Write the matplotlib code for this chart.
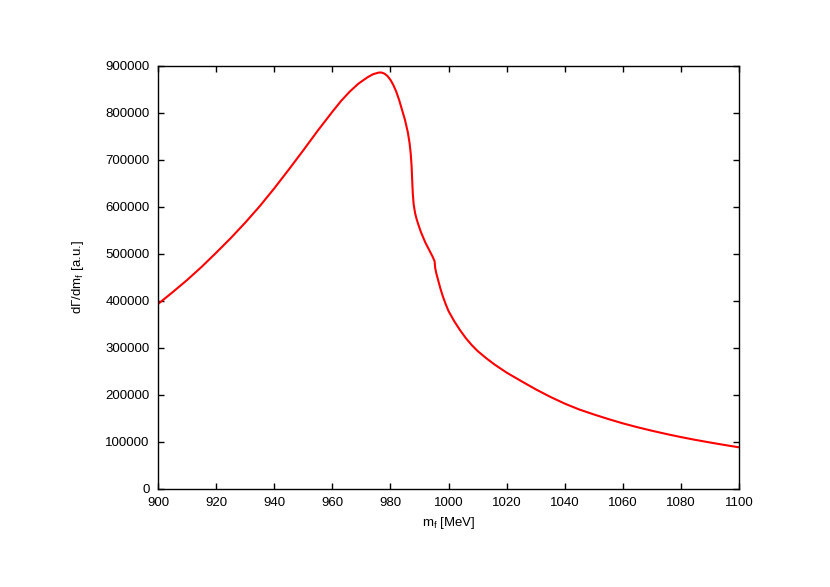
import matplotlib
matplotlib.use("Agg")
from matplotlib import pyplot as plt

# Massen m_f [MeV] und Werte dGamma/dm_f [a.u.]
masse = [900, 905, 910, 915, 920, 925, 930, 935, 940, 945, 950, 955, 960,
         963, 966, 969, 972, 974, 976, 977, 978, 979, 980, 981, 982, 983,
         984, 985, 986, 986.6, 987, 987.3, 987.5, 987.7, 988, 988.5, 989,
         989.5, 990.5, 992, 993.5, 994.5, 995.2, 995.4, 995.8, 996.5, 997.2,
         998, 999, 1000, 1002, 1004, 1006, 1008, 1010, 1013, 1016, 1020,
         1025, 1030, 1035, 1040, 1045, 1050, 1055, 1060, 1065, 1070, 1075,
         1080, 1085, 1090, 1095, 1100]
rate = [393000, 418000, 444000, 472000, 502000, 533000, 566000, 601000,
        639000, 679000, 720000, 762000, 802000, 825000, 845000, 862000,
        875000, 882000, 885500, 885500, 883000, 878000, 870000, 859000,
        845000, 827000, 806000, 785000, 758000, 735000, 712000, 685000,
        655000, 628000, 605000, 586000, 574000, 564000, 546000, 524000,
        506000, 494000, 484000, 470000, 458000, 442000, 426000, 410000,
        393000, 378000, 356000, 337000, 320000, 305500, 293000, 277500,
        263500, 247000, 229000, 211500, 195500, 181000, 168500, 158000,
        148200, 139000, 130800, 123300, 116300, 109800, 103800, 98300,
        93000, 88000]

x_ticks = [900, 920, 940, 960, 980, 1000, 1020, 1040, 1060, 1080, 1100]
y_ticks = [0, 100000, 200000, 300000, 400000, 500000, 600000, 700000,
           800000, 900000]

plt.rcParams['font.family'] = ['Liberation Sans', 'DejaVu Sans']
plt.rcParams['mathtext.fontset'] = 'custom'
plt.rcParams['mathtext.rm'] = 'Liberation Sans'
plt.rcParams['mathtext.it'] = 'Liberation Sans'

fig = plt.figure(figsize=(8.3, 5.87), dpi=100)
ax = fig.add_axes([0.1904, 0.1675, 0.7, 0.7205])

ax.plot(masse, rate, color="red", linewidth=1.5)

ax.set_xlim(900, 1100)
ax.set_ylim(0, 900000)
ax.set_xticks(x_ticks)
ax.set_yticks(y_ticks)
ax.set_xticklabels([str(t) for t in x_ticks])
ax.set_yticklabels([str(t) for t in y_ticks])
ax.tick_params(direction="in", length=4, width=1, labelsize=9.5,
               top=True, right=True, pad=6)
for s in ax.spines.values():
    s.set_linewidth(1)

ax.set_xlabel(r"m$_\mathrm{f}$ [MeV]", fontsize=9.5, labelpad=4)
ax.set_ylabel(r"d$\Gamma$/dm$_\mathrm{f}$ [a.u.]", fontsize=9.5, labelpad=14)

fig.savefig("out.png", dpi=100)
